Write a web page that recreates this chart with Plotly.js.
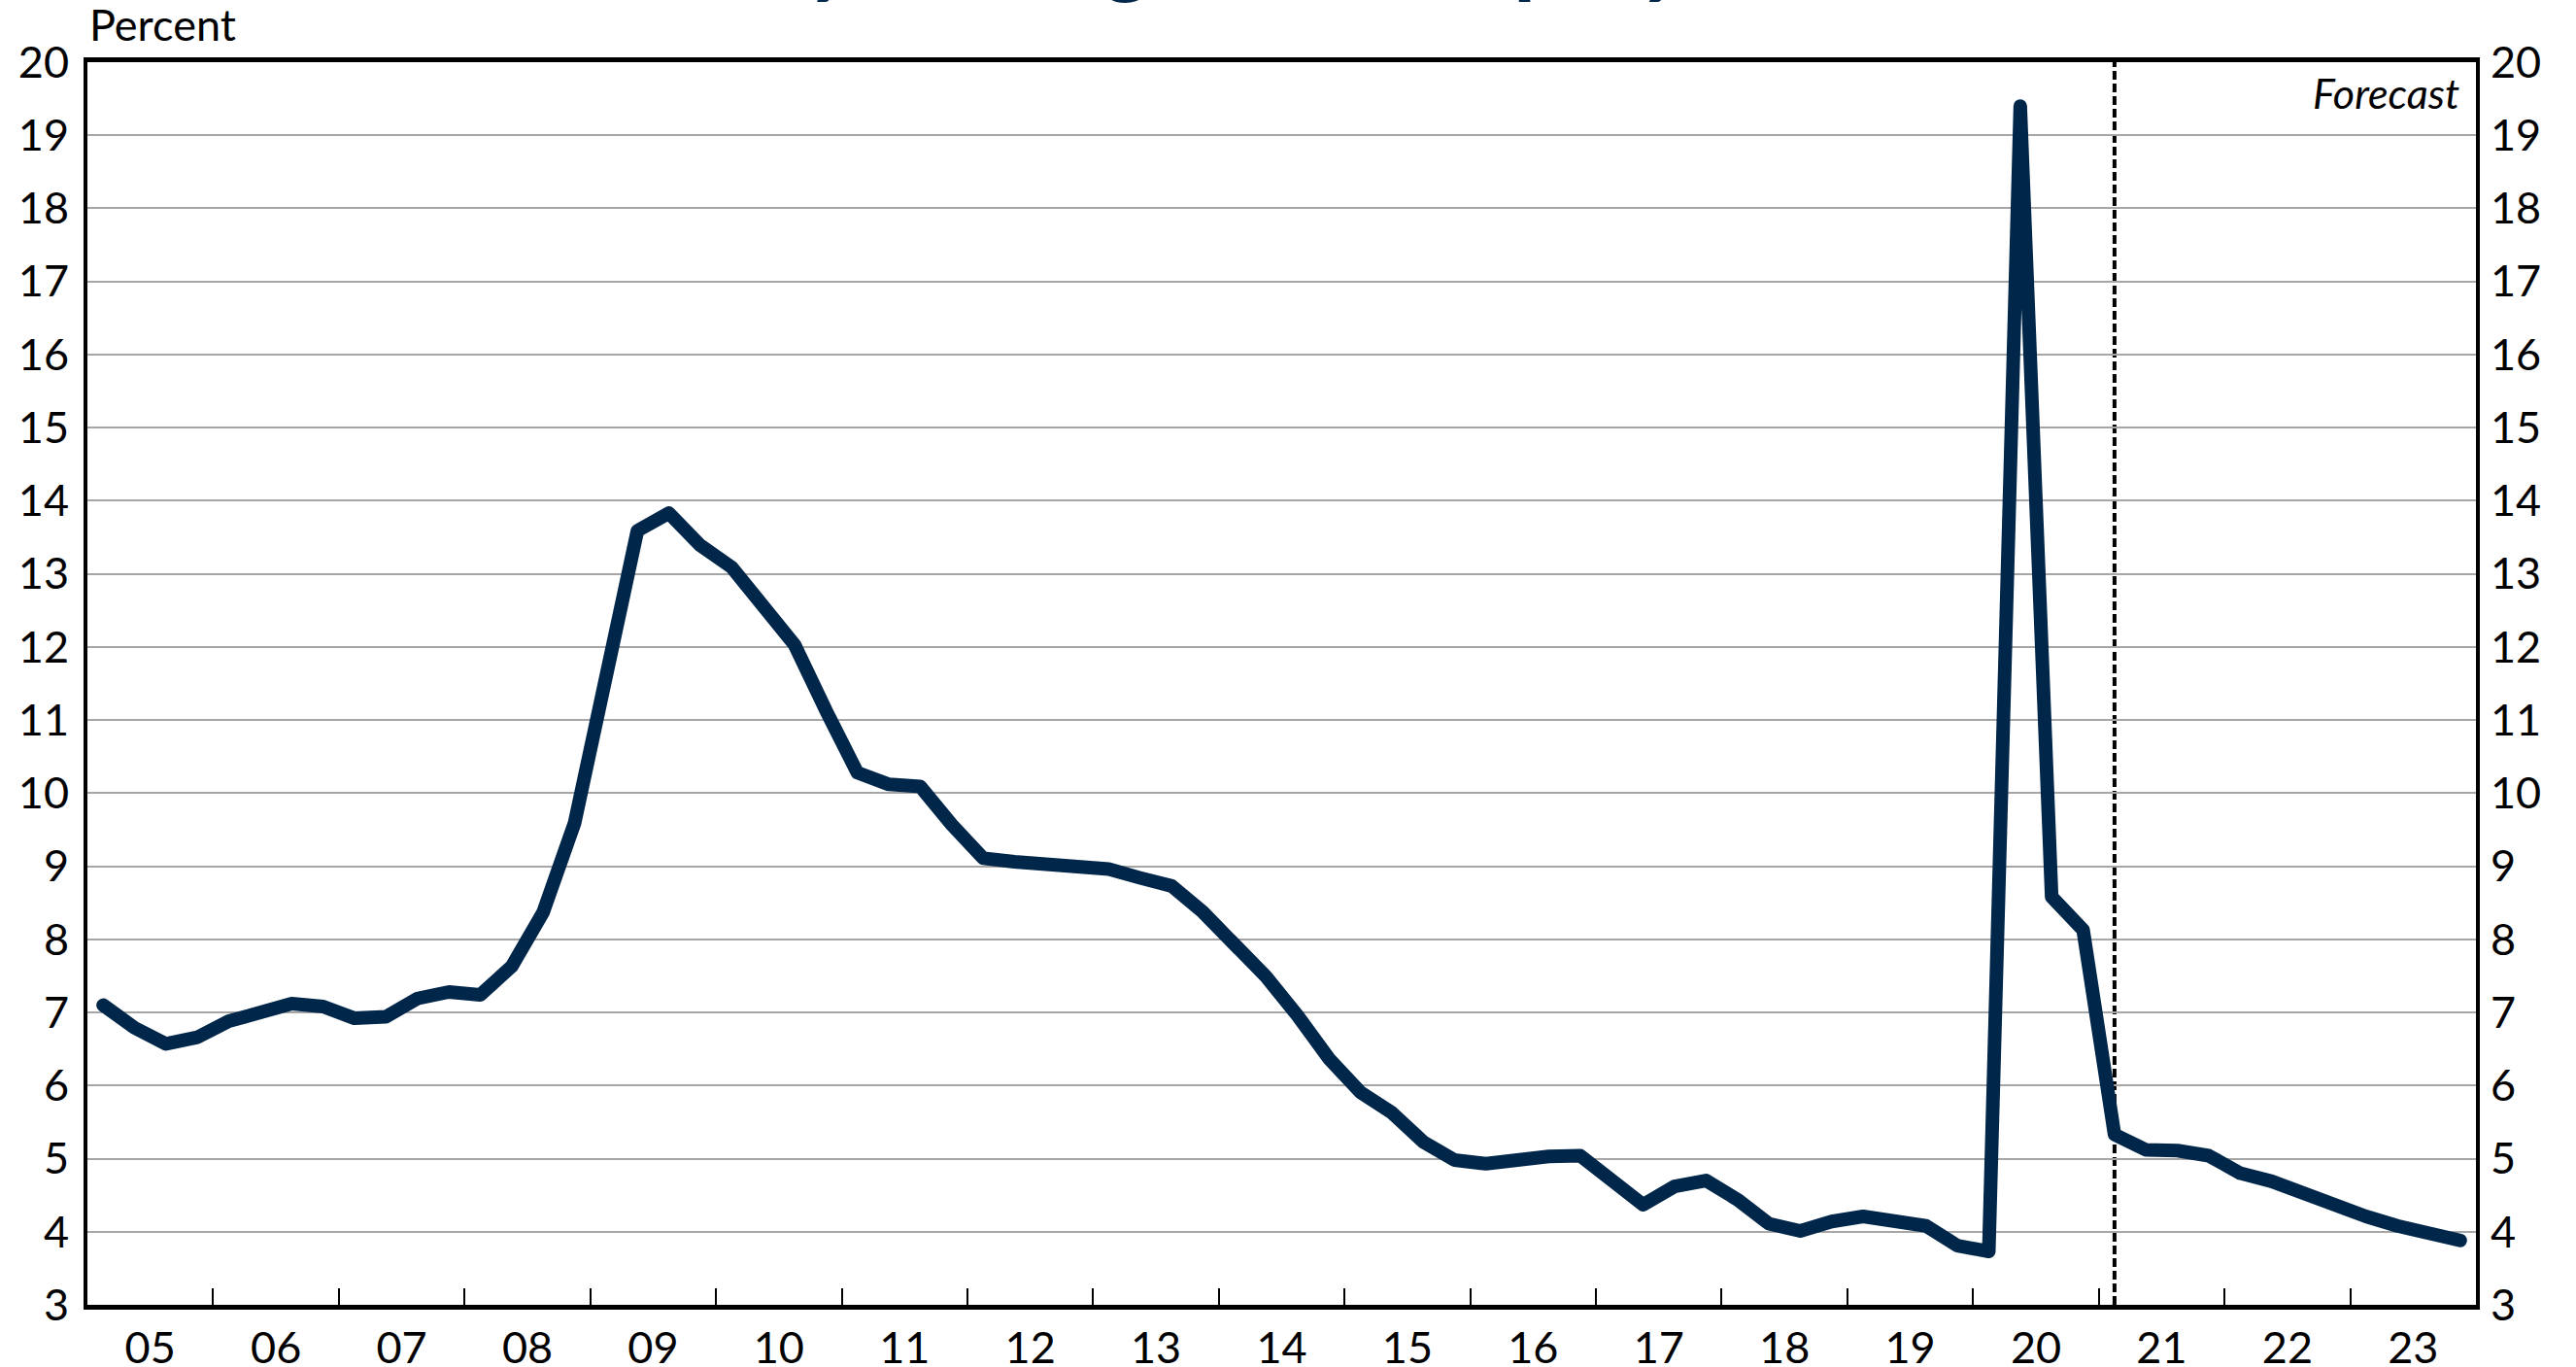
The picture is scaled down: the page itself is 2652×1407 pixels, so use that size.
<!DOCTYPE html>
<html>
<head>
<meta charset="utf-8">
<script src="https://cdn.plot.ly/plotly-3.0.1.min.js"></script>
<style>
  html, body { margin: 0; padding: 0; background: #ffffff; }
  #chart { width: 2652px; height: 1407px; }
  path.js-line { stroke-linejoin: round !important; stroke-linecap: round !important; }
</style>
</head>
<body>
<div id="chart"></div>
<script>
// ---- Data ----
const years = ['05','06','07','08','09','10','11','12','13','14','15','16','17','18','19','20','21','22','23'];
const quarters = ['Q1','Q2','Q3','Q4'];
const unemploymentRate = [
  7.10, 6.79, 6.57, 6.66,    // 2005
  6.88, 7.01, 7.12, 7.08,    // 2006
  6.92, 6.94, 7.19, 7.28,    // 2007
  7.24, 7.63, 8.37, 9.59,    // 2008
  11.70, 13.59, 13.83, 13.39, // 2009
  13.09, 12.56, 12.03, 11.13, // 2010
  10.28, 10.12, 10.09, 9.57,  // 2011
  9.11, 9.06, 9.02, 9.00,     // 2012
  8.96, 8.84, 8.73, 8.37,     // 2013
  7.94, 7.49, 6.96, 6.37,     // 2014
  5.91, 5.63, 5.23, 4.98,     // 2015
  4.93, 4.99, 5.03, 5.04,     // 2016
  4.68, 4.37, 4.62, 4.70,     // 2017
  4.44, 4.11, 4.01, 4.14,     // 2018
  4.21, 4.16, 4.08, 3.81,     // 2019
  3.73, 19.40, 8.58, 8.13,    // 2020
  5.33, 5.12, 5.11, 5.04,     // 2021 (forecast)
  4.80, 4.69, 4.52, 4.37,     // 2022
  4.21, 4.08, 3.97, 3.88      // 2023
];
const forecastStart = '21Q1';
const yTicks = [3,4,5,6,7,8,9,10,11,12,13,14,15,16,17,18,19,20];

// ---- Build quarter categories ----
const quarterLabels = [];
years.forEach(y => quarters.forEach(q => quarterLabels.push(y + q)));
const xIdx = quarterLabels.map((_, i) => i);
const nQ = quarters.length;
const yearCenters = years.map((_, k) => k * nQ + (nQ - 1) / 2);
const yearBounds = years.slice(1).map((_, k) => (k + 1) * nQ - 0.5);
const forecastIdx = quarterLabels.indexOf(forecastStart);
const xRange = [-0.5, quarterLabels.length - 0.5];

const FONT = 'Lato, "Open Sans", "DejaVu Sans", sans-serif';
const NAVY = '#002649';

const trace = {
  type: 'scatter',
  mode: 'lines',
  x: xIdx,
  y: unemploymentRate,
  text: quarterLabels,
  line: { color: NAVY, width: 14 },
  hoverinfo: 'text+y',
  showlegend: false
};

// invisible trace to activate the right-hand axis
const traceRight = {
  type: 'scatter', mode: 'lines',
  x: xIdx, y: unemploymentRate,
  xaxis: 'x2', yaxis: 'y2',
  line: { color: 'rgba(0,0,0,0)', width: 0 },
  hoverinfo: 'skip', showlegend: false
};

const layout = {
  width: 2652,
  height: 1407,
  margin: { l: 90, r: 103, t: 64, b: 64, pad: 0 },
  paper_bgcolor: '#ffffff',
  plot_bgcolor: '#ffffff',
  font: { family: FONT, size: 45, color: '#000000' },
  showlegend: false,
  xaxis: {
    range: xRange,
    tickmode: 'array',
    tickvals: yearCenters,
    ticktext: years,
    ticks: '',
    ticklabelstandoff: 1,
    showgrid: false,
    zeroline: false,
    showline: true,
    linecolor: '#000000',
    linewidth: 5,
    mirror: true,
    tickfont: { family: FONT, size: 45, color: '#000000' },
    fixedrange: true
  },
  xaxis2: {
    overlaying: 'x',
    anchor: 'y',
    side: 'bottom',
    range: xRange,
    tickmode: 'array',
    tickvals: yearBounds,
    ticks: 'inside',
    ticklen: 17,
    tickwidth: 2,
    tickcolor: '#000000',
    showticklabels: false,
    showgrid: false,
    zeroline: false,
    showline: false,
    fixedrange: true
  },
  yaxis: {
    range: [3, 20],
    tickmode: 'array',
    tickvals: yTicks,
    ticktext: yTicks.map(String),
    ticks: '',
    ticklabelstandoff: 6,
    showgrid: true,
    gridcolor: '#a6a6a6',
    gridwidth: 2,
    zeroline: false,
    showline: true,
    linecolor: '#000000',
    linewidth: 4,
    mirror: true,
    tickfont: { family: FONT, size: 45, color: '#000000' },
    fixedrange: true
  },
  yaxis2: {
    overlaying: 'y',
    anchor: 'x2',
    side: 'right',
    range: [3, 20],
    tickmode: 'array',
    tickvals: yTicks,
    ticktext: yTicks.map(String),
    ticks: '',
    ticklabelstandoff: 14,
    showgrid: false,
    zeroline: false,
    showline: false,
    tickfont: { family: FONT, size: 45, color: '#000000' },
    fixedrange: true
  },
  shapes: [
    {
      type: 'line',
      xref: 'x', yref: 'paper',
      x0: forecastIdx, x1: forecastIdx,
      y0: 0, y1: 1,
      layer: 'between',
      line: { color: '#000000', width: 4, dash: '9px,4px' }
    }
  ],
  annotations: [
    {
      text: '<b>Quarterly Michigan Unemployment Rate</b>',
      xref: 'paper', yref: 'paper',
      x: 0.5, y: 1,
      xanchor: 'center', yanchor: 'bottom',
      xshift: 2, yshift: 56,
      showarrow: false,
      font: { family: FONT, size: 94, color: NAVY }
    },
    {
      text: 'Percent',
      xref: 'paper', yref: 'paper',
      x: 0, y: 1,
      xanchor: 'left', yanchor: 'bottom',
      xshift: 0, yshift: 10,
      showarrow: false,
      font: { family: FONT, size: 45, color: '#000000' }
    },
    {
      text: '<i>Forecast</i>',
      xref: 'paper', yref: 'paper',
      x: 1, y: 1,
      xanchor: 'right', yanchor: 'middle',
      xshift: -15, yshift: -31,
      showarrow: false,
      font: { family: FONT, size: 43, color: '#000000' }
    }
  ]
};

Plotly.newPlot('chart', [trace, traceRight], layout, { displayModeBar: false, staticPlot: true });
</script>
</body>
</html>
